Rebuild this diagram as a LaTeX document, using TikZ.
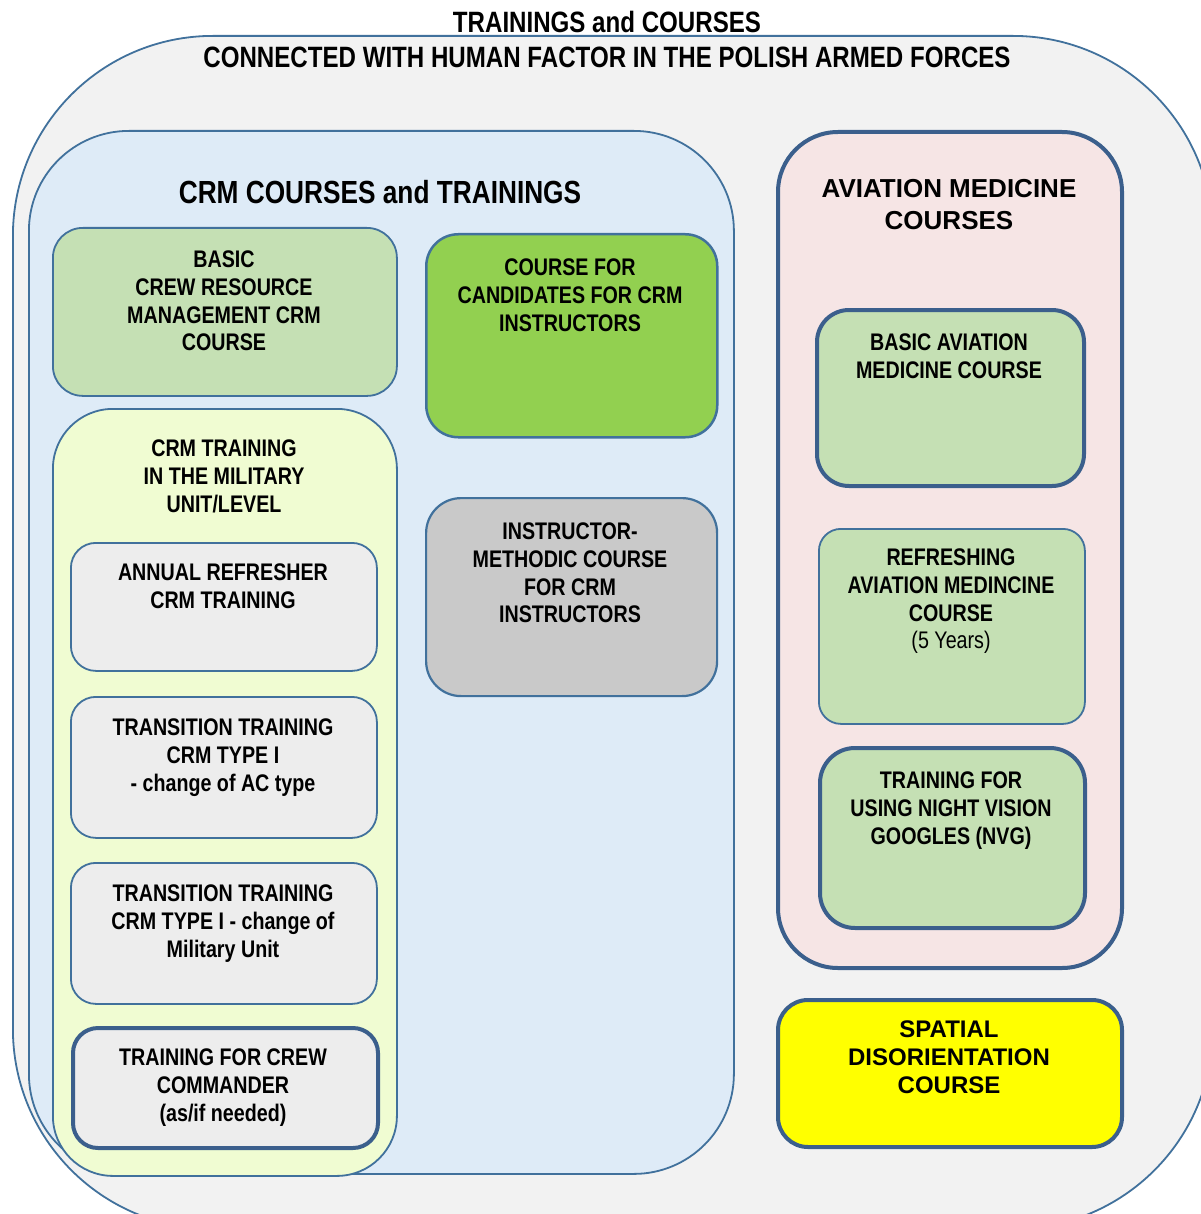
\documentclass[tikz,border=0pt]{standalone}
\usepackage{fontspec}
\setmainfont{Liberation Sans}
\newfontfamily\narrowfont[FakeStretch=0.82]{Liberation Sans}
\definecolor{thinblue}{HTML}{41719C}
\definecolor{thickblue}{HTML}{3B5F8C}
\definecolor{outerfill}{HTML}{F2F2F2}
\definecolor{crmfill}{HTML}{DEEBF7}
\definecolor{lightgreen}{HTML}{C5E0B4}
\definecolor{brightgreen}{HTML}{92D050}
\definecolor{milfill}{HTML}{F0FCD2}
\definecolor{grayfill}{HTML}{EDEDED}
\definecolor{darkgray}{HTML}{C9C9C9}
\definecolor{pinkfill}{HTML}{F6E5E5}
\definecolor{pureyellow}{HTML}{FFFF00}
\begin{document}
\begin{tikzpicture}[x=1pt,y=-1pt,
  box/.style={draw=thinblue, line width=1.8pt, rounded corners=#1, inner sep=0pt, anchor=north west},
  box/.default=30pt,
  thickbox/.style={box=#1, draw=thickblue, line width=4pt},
  thickbox/.default=30pt,
  txt/.style={anchor=north, align=center, inner sep=0pt, font=\narrowfont\bfseries\fontsize{24}{27.8}\selectfont},
  widetxt/.style={anchor=north, align=center, inner sep=0pt, font=\bfseries\fontsize{24}{28}\selectfont},
  titletxt/.style={txt, font=\narrowfont\bfseries\fontsize{29.4}{35}\selectfont},
]
\useasboundingbox (0,0) rectangle (1200,1214);
% outer
\node[box=200pt, fill=outerfill, minimum width=1200pt, minimum height=1193pt] (outer) at (12,35) {};
\node[titletxt] (title1) at (607,11.4) {TRAININGS and COURSES};
\node[titletxt] (title2) at (607,46.4) {CONNECTED WITH HUMAN FACTOR IN THE POLISH ARMED FORCES};
% CRM container
\node[box=100pt, fill=crmfill, minimum width=705pt, minimum height=1043pt] (crm) at (28,130) {};
\node[txt, font=\narrowfont\bfseries\fontsize{32}{38}\selectfont] (crmtitle) at (380,180.5) {CRM COURSES and TRAININGS};
\node[box=30pt, fill=lightgreen, minimum width=344pt, minimum height=168pt] (basic) at (52,227) {};
\node[txt] (basict) at (224,250.5) {BASIC\\CREW RESOURCE\\MANAGEMENT CRM\\COURSE};
\node[box=32pt, fill=brightgreen, line width=2.5pt, minimum width=291pt, minimum height=203pt] (cand) at (425,233) {};
\node[txt] (candt) at (570,258.5) {COURSE FOR\\CANDIDATES FOR CRM\\INSTRUCTORS};
\node[box=60pt, fill=milfill, minimum width=344pt, minimum height=767pt] (mil) at (52,408) {};
\node[txt] (milt) at (224,439.5) {CRM TRAINING\\IN THE MILITARY\\UNIT/LEVEL};
\node[box=25pt, fill=grayfill, minimum width=306pt, minimum height=128pt] (annual) at (70,542) {};
\node[txt] (annualt) at (223,563.5) {ANNUAL REFRESHER\\CRM TRAINING};
\node[box=25pt, fill=grayfill, minimum width=306pt, minimum height=141pt] (trans1) at (70,696) {};
\node[txt] (trans1t) at (223,718.5) {TRANSITION TRAINING\\CRM TYPE I\\- change of AC type};
\node[box=25pt, fill=grayfill, minimum width=306pt, minimum height=141pt] (trans2) at (70,862) {};
\node[txt] (trans2t) at (223,884.5) {TRANSITION TRAINING\\CRM TYPE I - change of\\Military Unit};
\node[thickbox=25pt, fill=grayfill, minimum width=305pt, minimum height=120pt] (cmd) at (71,1026) {};
\node[txt] (cmdt) at (223,1048.5) {TRAINING FOR CREW\\COMMANDER\\(as/if needed)};
\node[box=35pt, fill=darkgray, line width=2.2pt, minimum width=291pt, minimum height=198pt] (instr) at (425,497) {};
\node[txt] (instrt) at (570,522.5) {INSTRUCTOR-\\METHODIC COURSE\\FOR CRM\\INSTRUCTORS};
% aviation medicine
\node[thickbox=60pt, fill=pinkfill, minimum width=344pt, minimum height=836pt] (avmed) at (776,130) {};
\node[widetxt, font=\bfseries\fontsize{26}{32}\selectfont] (avmedt) at (949,178.7) {AVIATION MEDICINE\\COURSES};
\node[thickbox=32pt, fill=lightgreen, minimum width=267pt, minimum height=176pt] (basicav) at (815,308) {};
\node[txt] (basicavt) at (949,333.5) {BASIC AVIATION\\MEDICINE COURSE};
\node[box=22pt, fill=lightgreen, minimum width=266pt, minimum height=195pt] (refresh) at (818,528) {};
\node[txt] (refresht) at (951,548.5) {REFRESHING\\AVIATION MEDINCINE\\COURSE\\{\mdseries(5 Years)}};
\node[thickbox=35pt, fill=lightgreen, minimum width=265pt, minimum height=180pt] (nvg) at (818,746) {};
\node[txt] (nvgt) at (951,771.5) {TRAINING FOR\\USING NIGHT VISION\\GOOGLES (NVG)};
\node[thickbox=30pt, fill=pureyellow, minimum width=344pt, minimum height=147pt] (spatial) at (776,998) {};
\node[widetxt] (spatialt) at (949,1020.5) {SPATIAL\\DISORIENTATION\\COURSE};
\end{tikzpicture}
\end{document}
